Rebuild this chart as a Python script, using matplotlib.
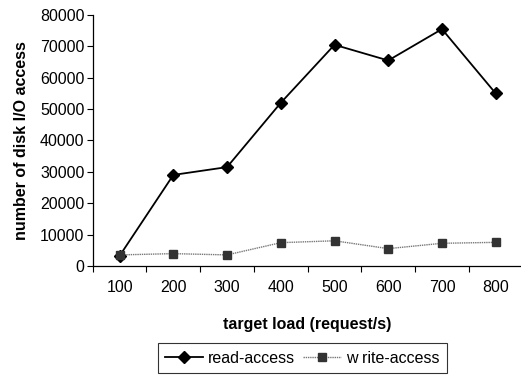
import matplotlib
matplotlib.use("Agg")
import matplotlib.pyplot as plt
import numpy as np

plt.rcParams['font.family'] = ['Liberation Sans', 'DejaVu Sans']

# target load levels (request/s) and disk I/O counts
loads = ["100", "200", "300", "400", "500", "600", "700", "800"]
read_access = [3200, 29000, 31500, 52000, 70500, 65500, 75500, 55000]
write_access = [3500, 3900, 3500, 7400, 8000, 5500, 7200, 7500]
y_ticks = [0, 10000, 20000, 30000, 40000, 50000, 60000, 70000, 80000]

FS = 11.5

fig = plt.figure(figsize=(5.21, 3.75), dpi=100)
ax = fig.add_axes([0.178, 0.291, 0.825, 0.669])

x = np.arange(len(loads))
ax.plot(x, read_access, color='black', lw=1.3, marker='D', ms=6,
        mfc='black', mec='black', label='read-access')
ax.plot(x, write_access, color='#777777', lw=1.0, ls=(0, (1, 0.6)),
        marker='s', ms=6, mfc='#333333', mec='#333333', label='w rite-access')

ax.set_xlim(-0.5, len(loads) - 0.5)
ax.set_ylim(0, 80000)
ax.set_yticks(y_ticks)
ax.set_yticklabels([str(v) for v in y_ticks], fontsize=FS)

# category labels centred, tick marks on the category boundaries
ax.set_xticks(x)
ax.set_xticklabels(loads, fontsize=FS)
ax.tick_params(axis='x', which='major', length=0, pad=10)
ax.set_xticks(np.arange(-0.5, len(loads) + 0.5), minor=True)
ax.tick_params(axis='x', which='minor', length=4, direction='out', width=0.8)
ax.tick_params(axis='y', length=4, direction='out', width=0.8, pad=2)

for side in ('top', 'right'):
    ax.spines[side].set_visible(False)
for side in ('left', 'bottom'):
    ax.spines[side].set_linewidth(0.9)

ax.set_xlabel('target load (request/s)', fontsize=FS, fontweight='bold', labelpad=16)
ax.set_ylabel('number of disk I/O access', fontsize=FS, fontweight='bold', labelpad=8)

leg = fig.legend(loc='center', bbox_to_anchor=(0.58, 0.045), ncol=2, fontsize=FS,
                 frameon=True, fancybox=False, edgecolor='black',
                 handlelength=2.4, handletextpad=0.3, columnspacing=0.5,
                 borderpad=0.45)
leg.get_frame().set_linewidth(0.8)

fig.savefig('out.png', dpi=100)
